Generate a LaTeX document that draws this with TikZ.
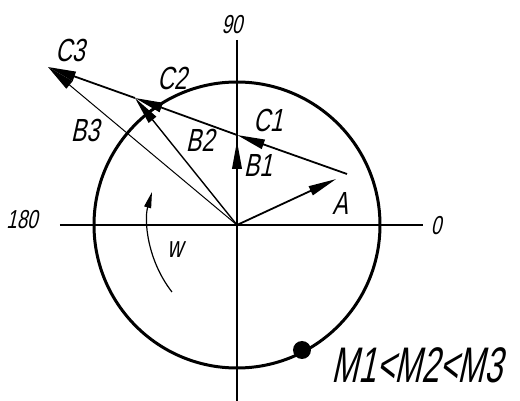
\documentclass[tikz,border=0pt]{standalone}
\usepackage{fontspec}
\newfontfamily\draftfont[FakeStretch=0.72,FakeSlant=0.22]{Liberation Sans}
\newfontfamily\narrowfont[FakeStretch=0.64,FakeSlant=0.22]{Liberation Sans}
\usetikzlibrary{arrows.meta}
\tikzset{
  axisline/.style={line width=0.7pt},
  rimline/.style={line width=1.5pt},
  vecarrow/.style={-{Triangle[length=14pt,width=4.8pt]},line width=0.9pt},
  thinvec/.style={-{Triangle[length=14pt,width=4.8pt]},line width=0.5pt},
  turnarrow/.style={-{Triangle[length=8pt,width=3.5pt]},line width=0.6pt},
  veclabel/.style={font=\draftfont\fontsize{16}{18}\selectfont,inner sep=0pt},
  anglelabel/.style={font=\draftfont\fontsize{13}{15}\selectfont,inner sep=0pt},
  contactdot/.style={circle,fill=black,inner sep=0pt,minimum size=9pt}
}

\begin{document}
\begin{tikzpicture}[x=0.5pt,y=0.5pt]
  \useasboundingbox (-237,-176) rectangle (283,225);
  % axes and the rim
  \coordinate (O) at (0,0);
  \draw[axisline] (-177,0) -- (186,0);
  \draw[axisline] (0,185) -- (0,-176);
  \draw[rimline] (O) circle (143);
  \node[anglelabel] (t90) at (-5,200) {90};
  \node[anglelabel] (t180) at (-215,5) {180};
  \node[anglelabel] (t0) at (199,-1) {0};

  % vector points
  \coordinate (A) at (110,51);
  \coordinate (P1) at (0,90);
  \coordinate (P2) at (-102,127);
  \coordinate (P3) at (-189,158);

  \draw[vecarrow,shorten >=6pt] (O) -- (A);
  \draw[vecarrow,shorten >=3pt] (O) -- (P1);
  \draw[vecarrow,line width=0.7pt] (O) -- (P2);
  \draw[thinvec] (O) -- (P3);
  \draw[vecarrow] (A) -- (P1);
  \draw[vecarrow] (P1) -- (P2);
  \draw[vecarrow] (P2) -- (P3);

  \node[veclabel] (lA) at (103,22) {A};
  \node[veclabel] (lB1) at (21,60) {B1};
  \node[veclabel] (lB2) at (-37,85) {B2};
  \node[veclabel] (lB3) at (-152,95) {B3};
  \node[veclabel] (lC1) at (31,105) {C1};
  \node[veclabel] (lC2) at (-65,147) {C2};
  \node[veclabel] (lC3) at (-167,175) {C3};

  % rotation
  \draw[turnarrow] (-65,-67) .. controls (-90,-35) and (-93,5) .. (-85,33);
  \node[anglelabel,font=\draftfont\fontsize{15}{17}\selectfont] (lw) at (-62,-25) {w};

  \node[contactdot] (M) at (65,-125) {};
  \node[veclabel,font=\narrowfont\fontsize{25}{28}\selectfont] (lM) at (180,-140) {M1<M2<M3};
\end{tikzpicture}
\end{document}
